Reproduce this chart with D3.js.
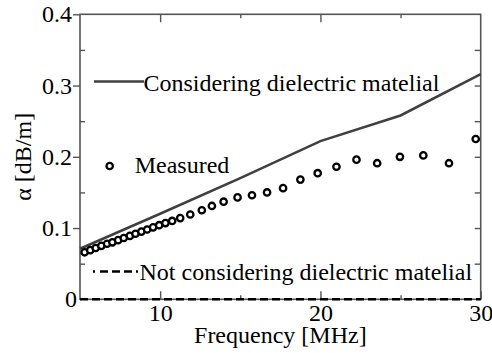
<!DOCTYPE html>
<html><head><meta charset="utf-8">
<script src="https://cdn.jsdelivr.net/npm/d3@7"></script>
<style>body{margin:0;background:#fff;}</style></head>
<body><svg id="chart" width="492" height="353"></svg>
<script>
// ---- data ----
const measuredFreq = [5.29,5.64,5.98,6.33,6.69,7.02,7.38,7.73,8.11,8.46,8.83,9.19,9.56,9.94,10.33,10.75,11.25,11.88,12.6,13.23,13.96,14.83,15.73,16.67,17.67,18.75,19.83,21.0,22.25,23.54,24.96,26.42,28.02,29.69];
const measuredAlpha = [0.066,0.069,0.072,0.075,0.078,0.080,0.083,0.086,0.089,0.092,0.095,0.098,0.101,0.104,0.107,0.110,0.114,0.119,0.125,0.131,0.137,0.143,0.146,0.150,0.156,0.168,0.177,0.186,0.196,0.191,0.200,0.202,0.191,0.225];
const dielFreq = [5,10,15,20,25,30];
const dielAlpha = [0.071,0.120,0.170,0.222,0.258,0.316];
const noDielFreq = [5,30];
const noDielAlpha = [0,0];
const xMajor = [10,20,30];
const xMinor = [15,25];
const yMajor = [0,0.1,0.2,0.3,0.4];
const yMinor = [0.05,0.15,0.25,0.35];
const legendLabels = ["Considering dielectric matelial","Measured","Not considering dielectric matelial"];
const xTitle = "Frequency [MHz]";
const yTitle = "α [dB/m]";

const FONT = "Liberation Serif";
const svg = d3.select("#chart");
const L = 80, R = 480.7, T = 14.3, B = 299.3;
const x = d3.scaleLinear().domain([5,30]).range([L,R]);
const y = d3.scaleLinear().domain([0,0.4]).range([B,T]);
const axisColor = "#555";
const FS = 24;

// frame
svg.append("rect").attr("x",L).attr("y",T).attr("width",R-L).attr("height",B-T)
  .attr("fill","none").attr("stroke",axisColor).attr("stroke-width",1.6);

function styleAxis(g){
  g.attr("font-family",FONT).attr("font-size",FS);
  g.select(".domain").remove();
  g.selectAll(".tick line").attr("stroke",axisColor).attr("stroke-width",1.4);
  g.selectAll(".tick text").attr("font-family",FONT).attr("font-size",FS).attr("fill","#000");
}
// bottom major with labels
svg.append("g").attr("transform",`translate(0,${B})`)
  .call(d3.axisBottom(x).tickValues(xMajor).tickSize(-8).tickPadding(4.5).tickFormat(d3.format("d")))
  .call(styleAxis);
svg.append("g").attr("transform",`translate(0,${B})`)
  .call(d3.axisBottom(x).tickValues(xMinor).tickSize(-4).tickFormat(""))
  .call(styleAxis);
// top
svg.append("g").attr("transform",`translate(0,${T})`)
  .call(d3.axisTop(x).tickValues(xMajor.filter(d=>d<30)).tickSize(-8).tickFormat(""))
  .call(styleAxis);
svg.append("g").attr("transform",`translate(0,${T})`)
  .call(d3.axisTop(x).tickValues(xMinor).tickSize(-4).tickFormat(""))
  .call(styleAxis);
// left major outward
const gl = svg.append("g").attr("transform",`translate(${L},0)`)
  .call(d3.axisLeft(y).tickValues(yMajor).tickSize(7).tickPadding(1).tickFormat(d=>d===0?"0":d3.format(".1f")(d)))
  .call(styleAxis);
gl.selectAll(".tick").filter(d=>d===0).select("line").remove();
gl.selectAll(".tick").filter(d=>d===0).select("text").attr("x",-3);
svg.append("g").attr("transform",`translate(${L},0)`)
  .call(d3.axisLeft(y).tickValues(yMinor).tickSize(-5).tickFormat(""))
  .call(styleAxis);
// right inward
svg.append("g").attr("transform",`translate(${R},0)`)
  .call(d3.axisRight(y).tickValues(yMajor.concat(yMinor).filter(d=>d>0&&d<0.4)).tickSize(-6).tickFormat(""))
  .call(styleAxis);

function txt(xp,yp,s){
  return svg.append("text").attr("x",xp).attr("y",yp).attr("font-family",FONT).attr("font-size",FS).attr("fill","#000").text(s);
}
// axis titles
txt((L+R)/2,343,xTitle).attr("text-anchor","middle");
svg.append("text").attr("transform",`translate(31,${(T+B)/2}) rotate(-90)`).attr("text-anchor","middle")
  .attr("font-family",FONT).attr("font-size",FS).text(yTitle);

// data lines
const line = d3.line().x(d=>x(d[0])).y(d=>y(d[1]));
svg.append("path").datum(dielFreq.map((f,i)=>[f,dielAlpha[i]]))
  .attr("d",line).attr("fill","none").attr("stroke","#404040").attr("stroke-width",2.6);
svg.append("path").datum(noDielFreq.map((f,i)=>[f,noDielAlpha[i]]))
  .attr("d",line).attr("fill","none").attr("stroke","#000").attr("stroke-width",2.6)
  .attr("stroke-dasharray","8,4");
svg.selectAll("circle.m").data(measuredFreq.map((f,i)=>[f,measuredAlpha[i]])).enter()
  .append("circle").attr("class","m").attr("cx",d=>x(d[0])).attr("cy",d=>y(d[1])).attr("r",3.2)
  .attr("fill","#fff").attr("stroke","#000").attr("stroke-width",2.3);

// legends
svg.append("line").attr("x1",94).attr("x2",144).attr("y1",81.5).attr("y2",81.5)
  .attr("stroke","#404040").attr("stroke-width",2.6);
txt(143.5,90.5,legendLabels[0]);
svg.append("circle").attr("cx",109.7).attr("cy",166).attr("r",3.2)
  .attr("fill","#fff").attr("stroke","#000").attr("stroke-width",2.3);
txt(134.7,173.3,legendLabels[1]);
svg.append("line").attr("x1",93).attr("x2",140).attr("y1",271.5).attr("y2",271.5)
  .attr("stroke","#000").attr("stroke-width",2.4).attr("stroke-dasharray","2,5,8,4,8,4,8,4");
txt(139.5,280,legendLabels[2]);
</script>
</body></html>
